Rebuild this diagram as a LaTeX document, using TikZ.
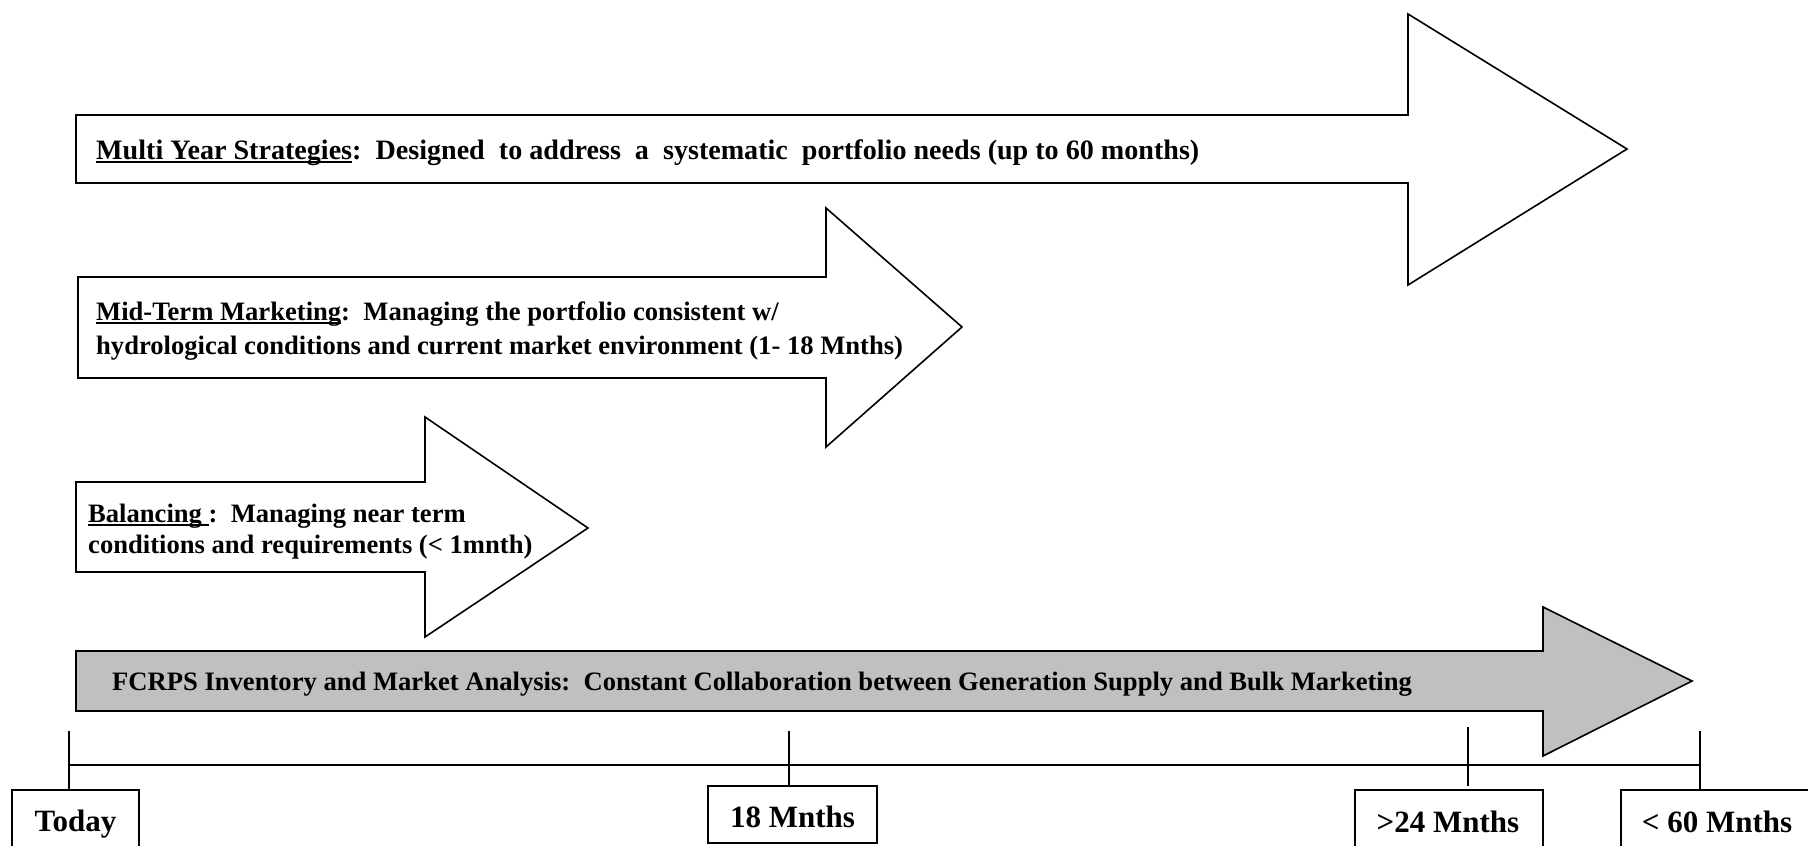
\documentclass[tikz,border=0pt]{standalone}
\usepackage{fontspec}
\setmainfont{Liberation Serif}
\newcommand{\ulin}[1]{\setbox0\hbox{#1}\rlap{\rule[-4pt]{\wd0}{2.4pt}}\box0}
\begin{document}
\begin{tikzpicture}[x=1pt,y=-1pt,
  arrowshape/.style={draw=black, line width=1.6pt, line join=miter, fill=white},
  grayarrow/.style={arrowshape, fill=silvergray},
  arrowtext/.style={font=\bfseries\fontsize{26.6}{33}\selectfont, anchor=base west, inner sep=0pt, align=left},
  tline/.style={draw=black, line width=1.4pt},
  tbox/.style={draw=black, line width=1.4pt, fill=white, inner sep=0pt},
  tlabel/.style={font=\bfseries\fontsize{31}{36}\selectfont, anchor=base, inner sep=0pt}]
\definecolor{silvergray}{RGB}{192,192,192}
\useasboundingbox (0,0) rectangle (1808,846);
\clip (0,0) rectangle (1808,846);
% Multi year arrow
\draw[arrowshape] (76,115) -- (1408,115) -- (1408,14) -- (1627,149) -- (1408,285) -- (1408,183) -- (76,183) -- cycle;
\node[arrowtext, font=\bfseries\fontsize{28.1}{33}\selectfont] (multi) at (96,159) {\ulin{Multi Year Strategies}:\ \ Designed\ \ to address\ \ a\ \ systematic\ \ portfolio needs (up to 60 months)};
% Mid-term arrow
\draw[arrowshape] (78,277) -- (826,277) -- (826,208) -- (962,327) -- (826,447) -- (826,378) -- (78,378) -- cycle;
\node[arrowtext] (mid1) at (96,320) {\ulin{Mid-Term Marketing}:\ \ Managing the portfolio consistent w/};
\node[arrowtext] (mid2) at (96,354) {hydrological conditions and current market environment (1- 18 Mnths)};
% Balancing arrow
\draw[arrowshape] (76,482) -- (425,482) -- (425,417) -- (588,528) -- (425,637) -- (425,572) -- (76,572) -- cycle;
\node[arrowtext] (bal1) at (88,522) {\ulin{Balancing }:\ \ Managing near term};
\node[arrowtext] (bal2) at (88,553) {conditions and requirements (< 1mnth)};
% FCRPS arrow
\draw[grayarrow] (76,651) -- (1543,651) -- (1543,607) -- (1692,681) -- (1543,756) -- (1543,711) -- (76,711) -- cycle;
\node[arrowtext] (fcrps) at (112,690) {FCRPS Inventory and Market Analysis:\ \ Constant Collaboration between Generation Supply and Bulk Marketing};
% timeline boxes
\node[tbox, minimum width=127, minimum height=90] (today) at (75.5,835) {};
\node[tlabel] (todayt) at (75.5,831) {Today};
\node[tbox, minimum width=169, minimum height=57] (m18) at (792.5,814.5) {};
\node[tlabel] (m18t) at (792.5,827) {18 Mnths};
\node[tbox, minimum width=188, minimum height=90] (m24) at (1449,835) {};
\node[tlabel] (m24t) at (1448,832) {>24 Mnths};
\node[tbox, minimum width=192, minimum height=90] (m60) at (1717,835) {};
\node[tlabel] (m60t) at (1717,832) {< 60 Mnths};
% timeline
\coordinate (t0) at (69,731);
\coordinate (t18) at (789,731);
\coordinate (t24) at (1468,727);
\coordinate (t24b) at (1468,786);
\coordinate (t60) at (1700,731);
\coordinate (lstart) at (69,765);
\coordinate (lend) at (1700,765);
\draw[tline] (lstart) -- (lend);
\draw[tline] (t0) -- (t0 |- today.north);
\draw[tline] (t18) -- (t18 |- m18.north);
\draw[tline] (t24) -- (t24b);
\draw[tline] (t60) -- (t60 |- m60.north);
\end{tikzpicture}
\end{document}
